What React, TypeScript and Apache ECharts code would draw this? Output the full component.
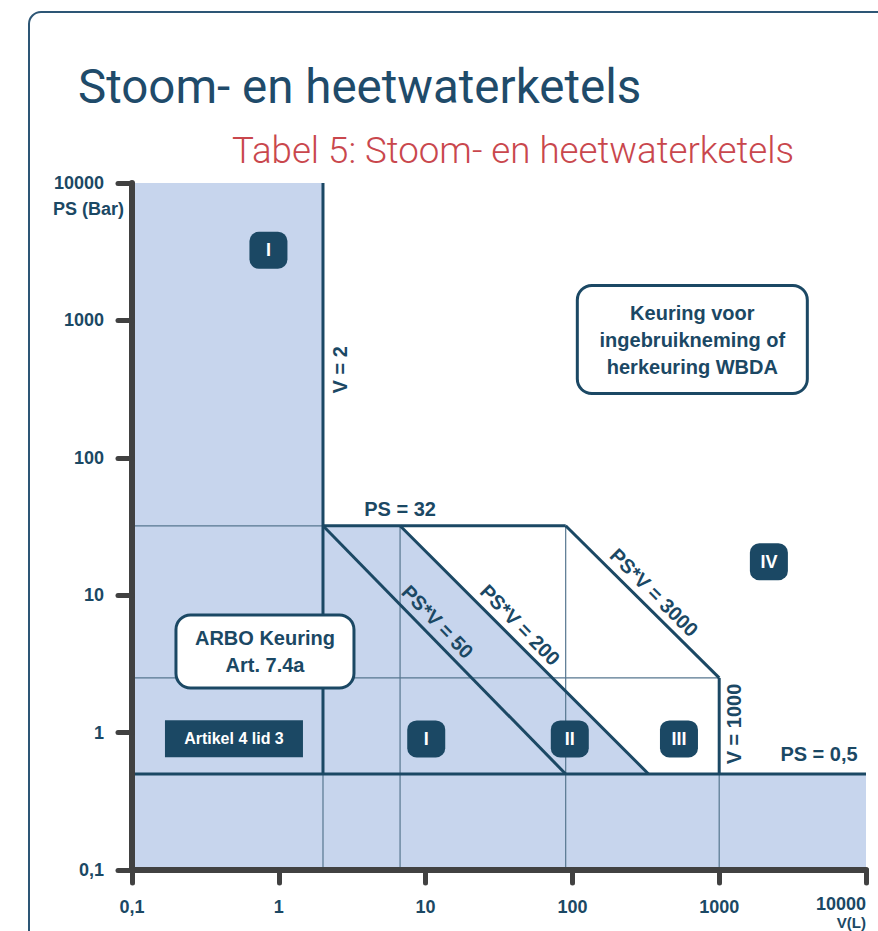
import React, { useEffect, useRef } from 'react';
import * as echarts from 'echarts';

// ---- axis ticks ----
const xTickValues = [0.1, 1, 10, 100, 1000, 10000];
const yTickValues = [0.1, 1, 10, 100, 1000, 10000];
const tickLabel = (v: number) => (v < 1 ? '0,1' : String(Math.round(v)));
const xAxisName = 'V(L)';
const yAxisName = 'PS (Bar)';

// ---- shaded zones, points as [V (L), PS (bar)] ----
const zoneLeft = [[0.1, 10000], [2, 10000], [2, 0.1], [0.1, 0.1]];
const zoneBottom = [[0.1, 0.5], [10000, 0.5], [10000, 0.1], [0.1, 0.1]];
const zoneMid = [[2, 32], [6.7, 32], [330, 0.5], [2, 0.5]];

// ---- boundary lines (thick) ----
const lineV2 = [[2, 10000], [2, 0.5]];
const linePS32 = [[2, 32], [90, 32]];
const linePSV50 = [[2, 32], [90, 0.5]];
const linePSV200 = [[6.7, 32], [330, 0.5]];
const linePSV3000 = [[90, 32], [1000, 2.5]];
const lineV1000 = [[1000, 2.5], [1000, 0.5]];
const linePS05 = [[0.1, 0.5], [10000, 0.5]];

// ---- helper lines (thin) ----
const thinPS32 = [[0.1, 32], [2, 32]];
const thinPS25 = [[0.1, 2.5], [1000, 2.5]];
const thinV2 = [[2, 0.5], [2, 0.1]];
const thinV67 = [[6.7, 32], [6.7, 0.1]];
const thinV90 = [[90, 32], [90, 0.1]];
const thinV1000 = [[1000, 0.5], [1000, 0.1]];

// ---- category badges ----
const badgeNames = ['I', 'I', 'II', 'III', 'IV'];
const badgePoints = [[0.85, 3240], [10.1, 0.9], [96, 0.9], [532, 0.9], [2180, 17.5]];

// ---- line labels ----
const lineLabelTexts = ['V = 2', 'PS = 32', 'PS*V = 50', 'PS*V = 200', 'PS*V = 3000', 'V = 1000', 'PS = 0,5'];
const lineLabelPoints = [[2.6, 437], [6.7, 42.4], [12.05, 6.41], [44, 6.07], [360, 10.46], [1262, 1.155], [4786, 0.7]];
const lineLabelAngles = [90, 0, -46, -45.5, -45, 90, 0];

// ---- boxes ----
const arboText = ['ARBO Keuring', 'Art. 7.4a'];
const arboPoint = [0.805, 3.89];
const keuringText = ['Keuring voor', 'ingebruikneming of', 'herkeuring WBDA'];
const keuringPoint = [656, 726];
const artikelText = 'Artikel 4 lid 3';
const artikelPoint = [0.495, 0.903];

const NAVY = '#1b4864';
const FILL = '#c7d5ed';
const THIN = '#56768f';
const AXIS = '#414141';
const FONT = '"Liberation Sans", Arial, sans-serif';

const zones = [zoneLeft, zoneBottom, zoneMid];
const thickLines = [lineV2, linePS32, linePSV50, linePSV200, linePSV3000, lineV1000, linePS05];
const thinLines = [thinPS32, thinPS25, thinV2, thinV67, thinV90, thinV1000];

const seg = (data: number[][], width: number, color: string, z: number) => ({
  type: 'line',
  data,
  symbol: 'none',
  showSymbol: false,
  silent: true,
  z,
  lineStyle: { width, color, cap: 'butt', opacity: 1 },
});

function buildOption() {
  const axisCommon = (margin: number, tickLen: number) => ({
    type: 'log',
    logBase: 10,
    min: 0.1,
    max: 10000,
    z: 10,
    axisLine: { show: true, onZero: false, lineStyle: { color: AXIS, width: 6, cap: 'round' } },
    axisTick: { show: true, length: tickLen, lineStyle: { color: AXIS, width: 5, cap: 'round' } },
    minorTick: { show: false },
    splitLine: { show: false },
    minorSplitLine: { show: false },
    axisLabel: {
      formatter: tickLabel,
      color: NAVY,
      fontSize: 18,
      fontWeight: 'bold',
      fontFamily: FONT,
      margin,
      hideOverlap: false,
      showMinLabel: true,
      showMaxLabel: true,
    },
  });
  const xAxis: any = axisCommon(30, 13);
  xAxis.axisLabel.alignMaxLabel = 'right';
  xAxis.axisLabel.lineHeight = 14;
  xAxis.axisLabel.rich = {
    a: { fontSize: 18, fontWeight: 'bold', fontFamily: FONT, color: NAVY, lineHeight: 8 },
    b: { fontSize: 15, fontWeight: 'bold', fontFamily: FONT, color: NAVY, lineHeight: 29 },
  };
  xAxis.axisLabel.formatter = (v: number) =>
    v >= xTickValues[xTickValues.length - 1] ? `{a|${tickLabel(v)}}\n{b|${xAxisName}}` : tickLabel(v);
  const yAxis: any = axisCommon(28, 14);

  return {
    animation: false,
    backgroundColor: '#ffffff',
    grid: {
      left: 132,
      right: 12,
      top: 183,
      bottom: 61,
      containLabel: false,
      outerBoundsMode: 'none',
    },
    xAxis,
    yAxis,
    graphic: [
      {
        type: 'rect',
        shape: { x: 29, y: 12, width: 900, height: 960, r: 12 },
        style: { fill: 'none', stroke: '#2d5675', lineWidth: 2 },
        silent: true,
      },
      {
        type: 'text',
        x: 78,
        y: 87,
        style: {
          text: 'Stoom- en heetwaterketels',
          fill: '#1f4b6a',
          font: '400 47.5px Roboto, sans-serif',
          verticalAlign: 'middle',
        },
      },
      {
        type: 'text',
        x: 232,
        y: 150,
        style: {
          text: 'Tabel 5: Stoom- en heetwaterketels',
          fill: '#c9474d',
          font: '300 36.7px Roboto, sans-serif',
          verticalAlign: 'middle',
        },
      },
      {
        type: 'text',
        x: 53,
        y: 209,
        style: {
          text: yAxisName,
          fill: NAVY,
          font: `bold 18px ${FONT}`,
          verticalAlign: 'middle',
        },
      },
    ],
    series: [
      {
        type: 'custom',
        coordinateSystem: 'cartesian2d',
        silent: true,
        z: 1,
        clip: false,
        data: zones.map((zn, i) => [zn[0][0], zn[0][1], i]),
        encode: { x: 0, y: 1 },
        renderItem: (_params: any, api: any) => {
          const poly = zones[api.value(2)];
          return {
            type: 'polygon',
            shape: { points: poly.map((p) => api.coord(p)) },
            style: { fill: FILL },
          };
        },
      },
      ...thinLines.map((d) => seg(d, 1.2, THIN, 2)),
      ...thickLines.map((d) => seg(d, 3, NAVY, 3)),
      {
        type: 'scatter',
        silent: true,
        z: 5,
        symbol: 'rect',
        symbolSize: [138, 37],
        itemStyle: { color: NAVY, opacity: 1 },
        data: [{ value: artikelPoint, name: artikelText }],
        label: {
          show: true,
          position: 'inside',
          formatter: '{b}',
          color: '#ffffff',
          fontSize: 16,
          fontWeight: 'bold',
          fontFamily: FONT,
        },
      },
      {
        type: 'scatter',
        silent: true,
        z: 5,
        symbol: 'roundRect',
        symbolSize: [38, 37],
        itemStyle: { color: NAVY, opacity: 1 },
        data: badgePoints.map((p, i) => ({ value: p, name: badgeNames[i] })),
        label: {
          show: true,
          position: 'inside',
          formatter: '{b}',
          color: '#ffffff',
          fontSize: 18,
          fontWeight: 'bold',
          fontFamily: FONT,
        },
      },
      {
        type: 'scatter',
        silent: true,
        z: 6,
        symbol: 'circle',
        symbolSize: 1,
        itemStyle: { color: '#ffffff', opacity: 0 },
        data: lineLabelPoints.map((p, i) => ({
          value: p,
          name: lineLabelTexts[i],
          label: { rotate: lineLabelAngles[i] },
        })),
        label: {
          show: true,
          position: 'inside',
          formatter: '{b}',
          color: NAVY,
          opacity: 1,
          fontSize: 20,
          fontWeight: 'bold',
          fontFamily: FONT,
          align: 'center',
          verticalAlign: 'middle',
        },
      },
      {
        type: 'scatter',
        silent: true,
        z: 6,
        symbol: 'circle',
        symbolSize: 1,
        itemStyle: { color: '#ffffff', opacity: 0 },
        data: [
          {
            value: arboPoint,
            name: arboText.join('\n'),
            label: { width: 175, padding: [8, 0], lineHeight: 27 },
          },
          {
            value: keuringPoint,
            name: keuringText.join('\n'),
            label: { width: 227, padding: [12, 0], lineHeight: 27 },
          },
        ],
        label: {
          show: true,
          position: 'inside',
          formatter: '{b}',
          color: NAVY,
          opacity: 1,
          fontSize: 20,
          fontWeight: 'bold',
          fontFamily: FONT,
          align: 'center',
          verticalAlign: 'middle',
          backgroundColor: '#ffffff',
          borderColor: NAVY,
          borderWidth: 3,
          borderRadius: 13,
          lineHeight: 27,
        },
      },
    ],
  };
}

export default function App() {
  const ref = useRef<HTMLDivElement>(null);
  useEffect(() => {
    if (!ref.current) return;
    const chart = echarts.init(ref.current, null, { renderer: 'svg' });
    chart.setOption(buildOption() as any);
    return () => chart.dispose();
  }, []);
  return (
    <div
      ref={ref}
      style={{ position: 'fixed', left: 0, top: 0, width: 878, height: 931, background: '#fff' }}
    />
  );
}
